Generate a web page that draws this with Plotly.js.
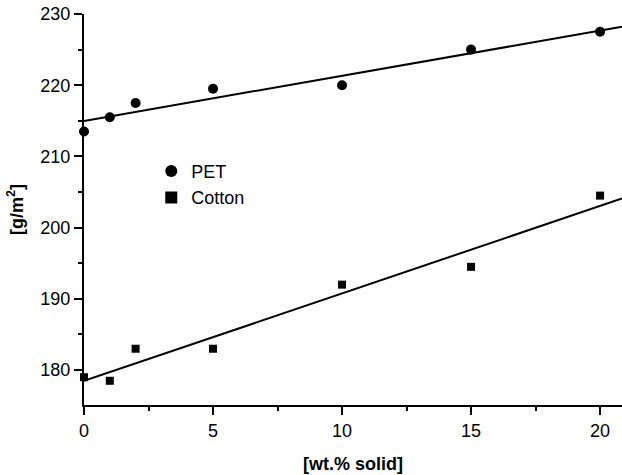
<!DOCTYPE html>
<html><head><meta charset="utf-8">
<script src="https://cdn.plot.ly/plotly-3.0.1.min.js"></script>
<style>html,body{margin:0;padding:0;background:#fff}#chart{width:622px;height:475px}</style>
</head><body><div id="chart"></div>
<script>
const solidX = [0, 1, 2, 5, 10, 15, 20];
const petY = [213.5, 215.5, 217.5, 219.5, 220, 225, 227.5];
const cottonY = [179, 178.5, 183, 183, 192, 194.5, 204.5];
const xRange = [0, 20.85];
const yRange = [175.1, 230];

function fit(xs, ys) {
  const n = xs.length;
  const mx = xs.reduce((a, b) => a + b, 0) / n;
  const my = ys.reduce((a, b) => a + b, 0) / n;
  let sxy = 0, sxx = 0;
  for (let i = 0; i < n; i++) { sxy += (xs[i] - mx) * (ys[i] - my); sxx += (xs[i] - mx) ** 2; }
  const b = sxy / sxx, a = my - b * mx;
  return xRange.map(x => a + b * x);
}

const font = {family: 'Liberation Sans, Arial, sans-serif', color: '#000'};
const traces = [
  {x: solidX, y: petY, type: 'scatter', mode: 'markers', name: 'PET',
   marker: {symbol: 'circle', size: 10, color: '#000'}, cliponaxis: false},
  {x: solidX, y: cottonY, type: 'scatter', mode: 'markers', name: 'Cotton',
   marker: {symbol: 'square', size: 8, color: '#000'}, cliponaxis: false},
  {x: xRange, y: fit(solidX, petY), type: 'scatter', mode: 'lines', showlegend: false,
   line: {color: '#000', width: 2}},
  {x: xRange, y: fit(solidX, cottonY), type: 'scatter', mode: 'lines', showlegend: false,
   line: {color: '#000', width: 2}}
];
const layout = {
  width: 622, height: 475,
  margin: {l: 84, r: 0, t: 14, b: 70},
  paper_bgcolor: '#fff', plot_bgcolor: '#fff',
  font: Object.assign({size: 18}, font),
  showlegend: true,
  legend: {x: 0.125, y: 0.645, xanchor: 'left', yanchor: 'top', bgcolor: 'rgba(0,0,0,0)',
           font: Object.assign({size: 18}, font), itemsizing: 'constant', tracegroupgap: 0},
  xaxis: {range: xRange, showgrid: false, zeroline: false, showline: true, linewidth: 2, linecolor: '#000',
          ticks: 'outside', ticklen: 8, tickwidth: 2, tickcolor: '#000', dtick: 5, tick0: 0,
          minor: {dtick: 2.5, ticks: 'outside', ticklen: 4, tickwidth: 2, tickcolor: '#000'},
          tickfont: Object.assign({size: 18}, font),
          title: {text: '<b>[wt.% solid]</b>', font: Object.assign({size: 18}, font), standoff: 18}},
  yaxis: {range: yRange, showgrid: false, zeroline: false, showline: true, linewidth: 2, linecolor: '#000',
          ticks: 'outside', ticklen: 8, tickwidth: 2, tickcolor: '#000', dtick: 10, tick0: 180,
          minor: {dtick: 5, ticks: 'outside', ticklen: 4, tickwidth: 2, tickcolor: '#000'},
          tickfont: Object.assign({size: 18}, font),
          title: {text: '<b>[g/m<sup>2</sup>]</b>', font: Object.assign({size: 18}, font), standoff: 12}}
};
Plotly.newPlot('chart', traces, layout, {displayModeBar: false, staticPlot: true});
</script></body></html>
